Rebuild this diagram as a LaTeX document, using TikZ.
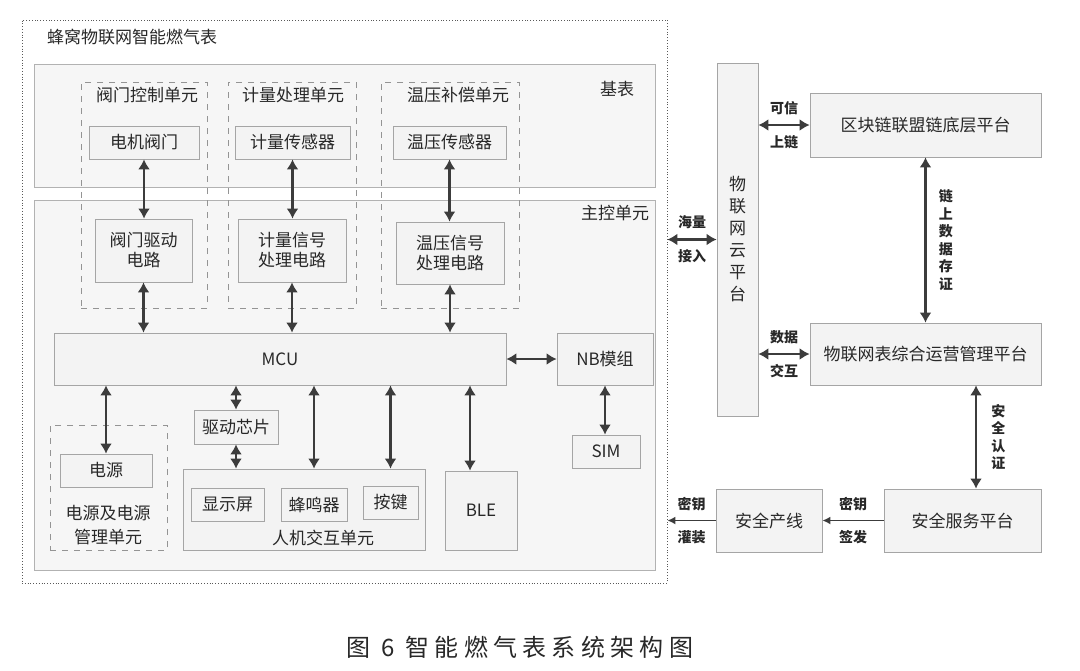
\documentclass[tikz,border=0pt]{standalone}
\usepackage{fontspec}
\setmainfont{Noto Sans CJK SC}
\newfontfamily\capfont[LetterSpace=22]{Noto Sans CJK SC}
\usetikzlibrary{arrows.meta,fit,shadows}
\definecolor{boxfill}{RGB}{243,243,243}
\definecolor{boxline}{RGB}{165,165,165}
\definecolor{arrowc}{RGB}{60,60,60}
\definecolor{txt}{RGB}{40,40,40}
\begin{document}
\begin{tikzpicture}[x=0.5pt,y=-0.5pt,
  font=\fontsize{8.5}{10}\selectfont, text=txt,
  box/.style={draw=boxline,fill=boxfill,inner sep=0pt,align=center,
    drop shadow={shadow xshift=0.6pt,shadow yshift=-0.6pt,fill=black!30,opacity=0.6}},
  panel/.style={draw=boxline!85,fill=boxfill!75,inner sep=0pt},
  unitbox/.style={draw=boxline!90!black,dashed,inner sep=0pt},
  biarrow/.style={{Latex[length=5pt,width=6pt]}-{Latex[length=5pt,width=6pt]},line width=1.4pt,draw=arrowc},
  onearrow/.style={-{Latex[length=4pt,width=4pt]},line width=0.9pt,draw=arrowc},
  tag/.style={font=\fontsize{7}{8.8}\selectfont\bfseries,align=center,inner sep=1pt}]
  \fill[white] (0,0) rectangle (1080,670);
  \useasboundingbox (0,0) rectangle (1080,670);
  % smart meter side
  \node[draw=gray!70!black,densely dotted,inner sep=0pt,fit={(22,20) (667,583)}] (meter) {};
  \node[anchor=west] (title) at (40,37) {蜂窝物联网智能燃气表};
  \node[panel,fit={(34,64) (655,187)}] (base) {};
  \node[panel,fit={(34,200) (655,570)}] (mainctl) {};
  \node (basel) at (617,89) {基表};
  \node (mainl) at (615,213) {主控单元};
  \node[unitbox,fit={(81,82) (207,308)}] (valveu) {};
  \node[unitbox,fit={(228,82) (356,308)}] (flowu) {};
  \node[unitbox,fit={(381,82) (519,308)}] (tpu) {};
  \node (valveul) at (147,95) {阀门控制单元};
  \node (flowul) at (293,95) {计量处理单元};
  \node (tpul) at (458,95) {温压补偿单元};
  \node[box,minimum width=55pt,minimum height=16.5pt] (valve) at (144,142.5) {电机阀门};
  \node[box,minimum width=57.5pt,minimum height=16.5pt] (flowsen) at (292.5,142.5) {计量传感器};
  \node[box,minimum width=56.5pt,minimum height=16.5pt] (tpsen) at (449.5,142.5) {温压传感器};
  \node[box,minimum width=48.5pt,minimum height=31.5pt] (valvedrv) at (143.5,250.5) {阀门驱动\\电路};
  \node[box,minimum width=54pt,minimum height=31.5pt] (flowsig) at (292,250.5) {计量信号\\处理电路};
  \node[box,minimum width=54pt,minimum height=31pt] (tpsig) at (450,253) {温压信号\\处理电路};
  \node[box,minimum width=226pt,minimum height=26pt] (mcu) at (280,359) {MCU};
  \node[box,minimum width=48pt,minimum height=26pt] (nb) at (605,359) {NB模组};
  \node[box,minimum width=34pt,minimum height=16.5pt] (sim) at (606,451.5) {SIM};
  \node[box,minimum width=42pt,minimum height=17pt] (drv) at (236,427) {驱动芯片};
  \node[unitbox,fit={(50,425) (167,550)}] (pwru) {};
  \node[box,minimum width=46pt,minimum height=16.5pt] (pwr) at (106,470.5) {电源};
  \node[align=center,font=\fontsize{8.5}{12}\selectfont] (pwrul) at (108,525) {电源及电源\\管理单元};
  \node[box,fit={(183,469) (425,550)}] (hmi) {};
  \node[box,minimum width=36.5pt,minimum height=16.5pt] (disp) at (227.5,504.5) {显示屏};
  \node[box,minimum width=33pt,minimum height=16.5pt] (buzz) at (314,504.5) {蜂鸣器};
  \node[box,minimum width=27.5pt,minimum height=16.5pt] (key) at (390.5,502.5) {按键};
  \node (hmil) at (323,538) {人机交互单元};
  \node[box,minimum width=36pt,minimum height=39.5pt] (ble) at (481,510.5) {BLE};
  \draw[biarrow] (valve.south) -- (valve.south |- valvedrv.north);
  \draw[biarrow] (flowsen.south) -- (flowsen.south |- flowsig.north);
  \draw[biarrow] (tpsen.south) -- (tpsen.south |- tpsig.north);
  \draw[biarrow] (valvedrv.south) -- (valvedrv.south |- mcu.north);
  \draw[biarrow] (flowsig.south) -- (flowsig.south |- mcu.north);
  \draw[biarrow] (tpsig.south) -- (tpsig.south |- mcu.north);
  \draw[biarrow] (mcu.east) -- (nb.west);
  \draw[biarrow] (nb.south) -- (nb.south |- sim.north);
  \draw[biarrow] (pwr.north) -- (pwr.north |- mcu.south);
  \draw[biarrow] (drv.north) -- (drv.north |- mcu.south);
  \draw[biarrow] (drv.south) -- (drv.south |- hmi.north);
  \draw[biarrow] (buzz.north |- hmi.north) -- (buzz.north |- mcu.south);
  \draw[biarrow] (key.north |- hmi.north) -- (key.north |- mcu.south);
  \draw[biarrow] ([xshift=-5.5pt]ble.north) -- ([xshift=-5.5pt]ble.north |- mcu.south);
  % platforms
  \node[box,minimum width=20.5pt,minimum height=176.5pt,font=\fontsize{8.5}{11}\selectfont] (cloud) at (737.5,239.5) {物\\联\\网\\云\\平\\台};
  \node[box,minimum width=115.5pt,minimum height=32pt] (chain) at (925.5,125) {区块链联盟链底层平台};
  \node[box,minimum width=115.5pt,minimum height=31pt] (ops) at (925.5,354) {物联网表综合运营管理平台};
  \node[box,minimum width=78.5pt,minimum height=31.5pt] (secsrv) at (962.5,520.5) {安全服务平台};
  \node[box,minimum width=53pt,minimum height=31.5pt] (secline) at (769,520.5) {安全产线};
  \draw[biarrow] (cloud.west -| meter.east) -- (cloud.west)
    node[tag,midway,above=3.5pt] (accl1) {海量} node[tag,midway,below=3.5pt] (accl2) {接入};
  \draw[biarrow] (chain.west -| cloud.east) -- (chain.west)
    node[tag,midway,above=3.5pt] (upl1) {可信} node[tag,midway,below=3.5pt] (upl2) {上链};
  \draw[biarrow] (ops.west -| cloud.east) -- (ops.west)
    node[tag,midway,above=3.5pt] (dxl1) {数据} node[tag,midway,below=3.5pt] (dxl2) {交互};
  \draw[biarrow] (chain.south) -- (ops.north)
    node[tag,midway,right=5pt] (storl) {链\\上\\数\\据\\存\\证};
  \draw[biarrow] ([xshift=6.75pt]secsrv.north) -- ([xshift=6.75pt]secsrv.north |- ops.south)
    node[tag,midway,right=6pt] (authl) {安\\全\\认\\证};
  \draw[onearrow] (secsrv.west) -- (secline.east)
    node[tag,midway,above=3.5pt] (issl1) {密钥} node[tag,midway,below=3.5pt] (issl2) {签发};
  \draw[onearrow] (secline.west) -- (secline.west -| meter.east)
    node[tag,midway,above=3.5pt] (fill1) {密钥} node[tag,midway,below=3.5pt] (fill2) {灌装};
  \node[font=\fontsize{12}{14}\selectfont] (caption) at (520,647) {\capfont 图 6 智能燃气表系统架构图};
\end{tikzpicture}
\end{document}
